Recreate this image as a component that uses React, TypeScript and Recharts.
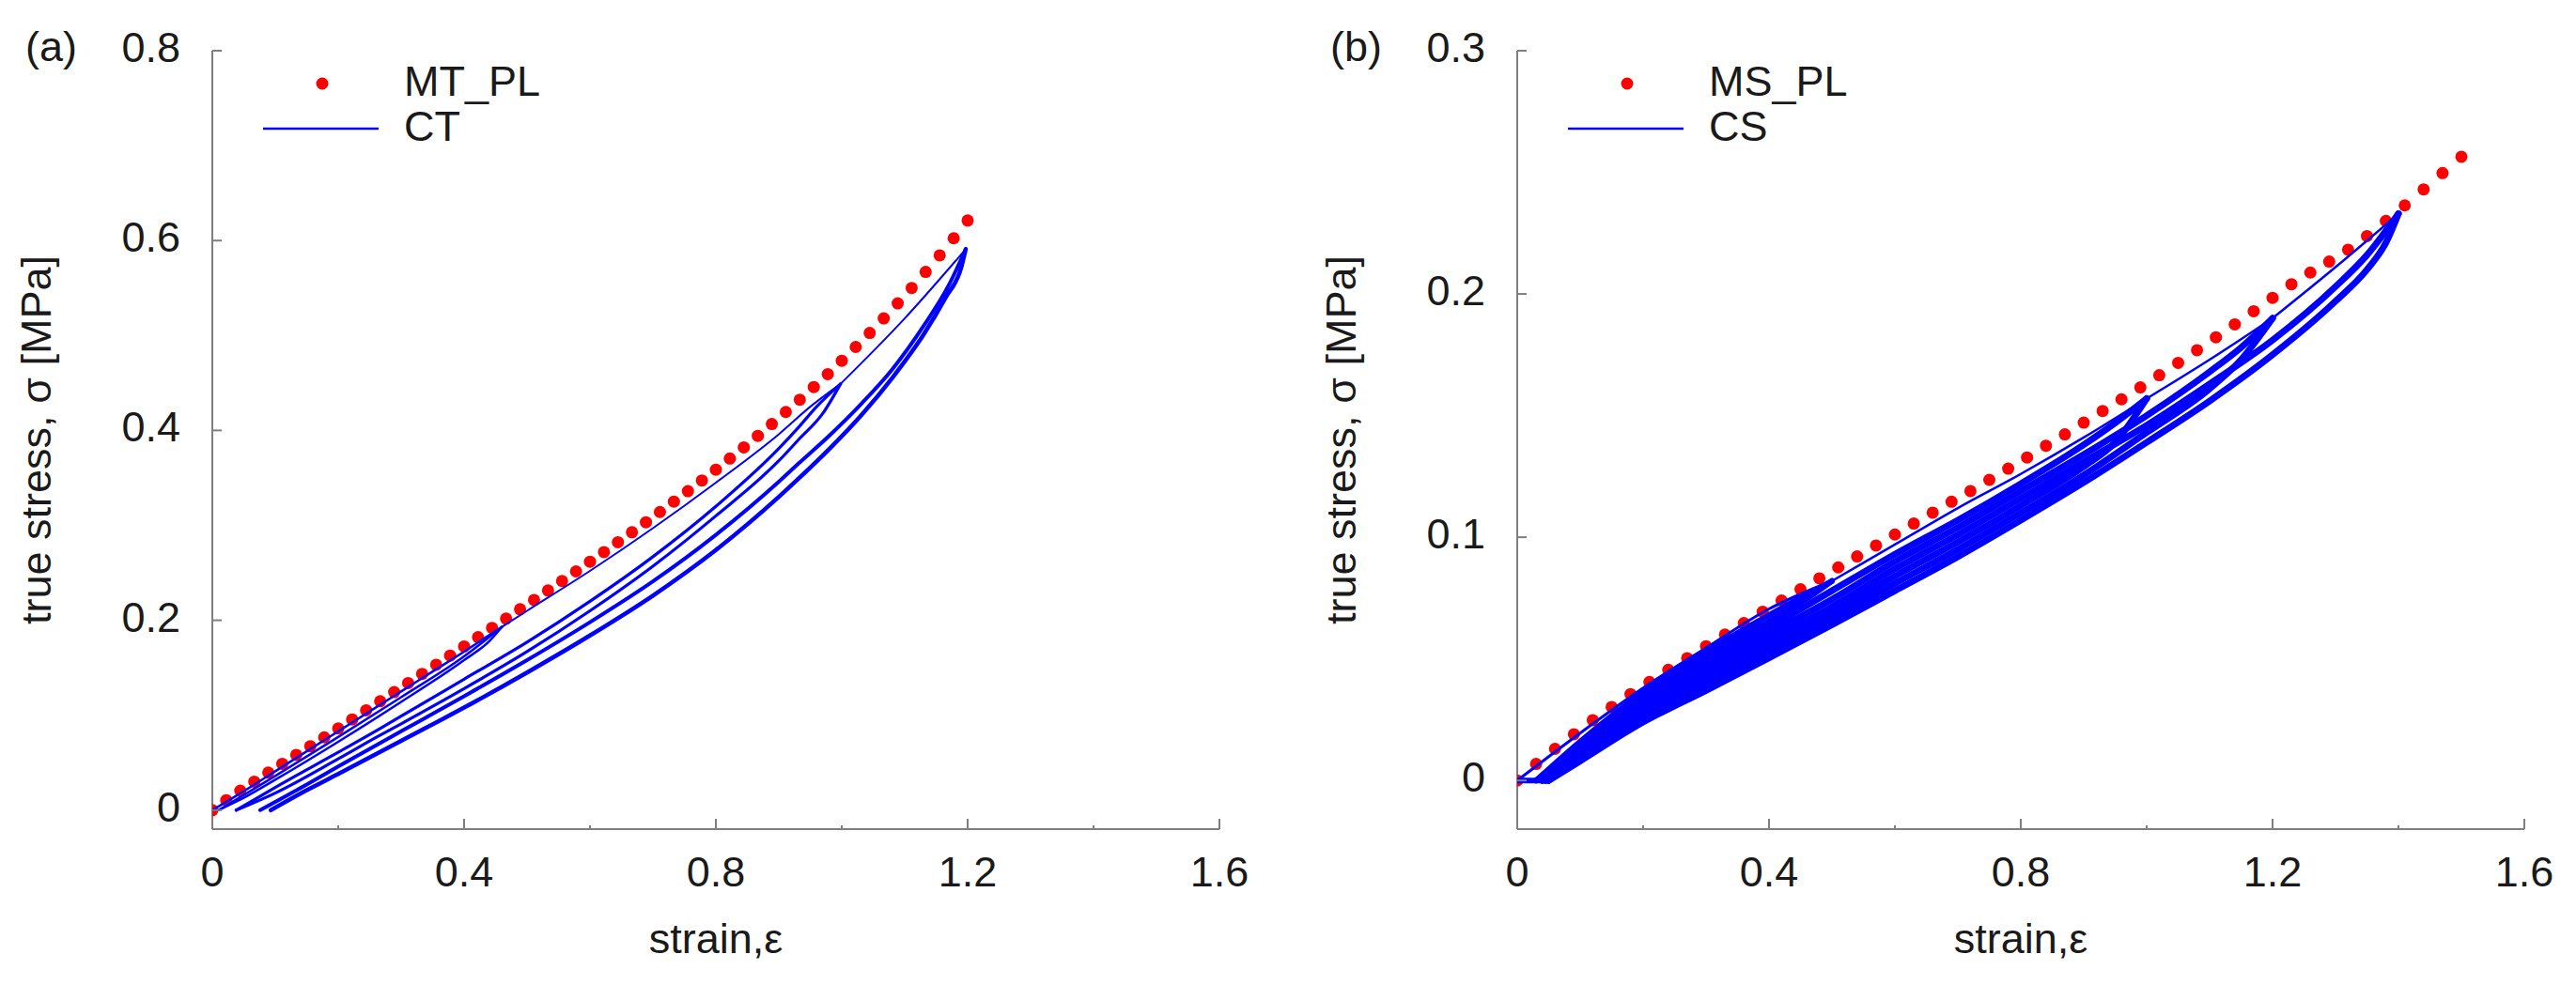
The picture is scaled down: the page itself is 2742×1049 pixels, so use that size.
import React from 'react';
import { ScatterChart, Scatter, XAxis, YAxis, Legend } from 'recharts';

const FONT = '"Liberation Sans", Arial, sans-serif';
const TEXT = '#1a1a1a';
const AXIS = '#7f7f7f';
const RED = '#ff0000';
const BLUE = '#0000ff';

// ---------- tick values ----------
const X_TICKS = [0, 0.2, 0.4, 0.6, 0.8, 1.0, 1.2, 1.4, 1.6];
const X_LABELED = [0, 0.4, 0.8, 1.2, 1.6];
const Y_TICKS_A = [0, 0.2, 0.4, 0.6, 0.8];
const Y_TICKS_B = [0, 0.1, 0.2, 0.3];

// ---------- panel (a): MT_PL model points ----------
const MT_PL_STRAIN = [
  0, 0.0222, 0.0444, 0.0667, 0.0889, 0.1111, 0.1333, 0.1556, 0.1778, 0.2,
  0.2222, 0.2444, 0.2667, 0.2889, 0.3111, 0.3333, 0.3556, 0.3778, 0.4, 0.4222,
  0.4444, 0.4667, 0.4889, 0.5111, 0.5333, 0.5556, 0.5778, 0.6, 0.6222, 0.6444,
  0.6667, 0.6889, 0.7111, 0.7333, 0.7556, 0.7778, 0.8, 0.8222, 0.8444, 0.8667,
  0.8889, 0.9111, 0.9333, 0.9556, 0.9778, 1.0, 1.0222, 1.0444, 1.0667, 1.0889,
  1.1111, 1.1333, 1.1556, 1.1778, 1.2,
];
const MT_PL_STRESS = [
  0, 0.0105, 0.0205, 0.03, 0.0395, 0.0488, 0.0582, 0.0674, 0.0767, 0.086,
  0.0956, 0.1052, 0.1147, 0.1243, 0.1339, 0.1435, 0.1532, 0.1628, 0.1725, 0.1822,
  0.192, 0.2017, 0.2116, 0.2214, 0.2314, 0.2414, 0.2515, 0.2617, 0.2719, 0.2823,
  0.2927, 0.3033, 0.3141, 0.325, 0.336, 0.3473, 0.3587, 0.3704, 0.3822, 0.3943,
  0.4067, 0.4194, 0.4324, 0.4457, 0.4593, 0.4734, 0.4879, 0.5027, 0.518, 0.5338,
  0.5501, 0.567, 0.5844, 0.6024, 0.6211,
];

// ---------- panel (a): CT experimental branches [strain, stress] ----------
const CT_A_LOAD = [[0, 0], [0.05, 0.02], [0.1, 0.041], [0.15, 0.062], [0.2, 0.083], [0.25, 0.104], [0.3, 0.125], [0.35, 0.146], [0.4, 0.167], [0.46, 0.193]];
const CT_A_UNLOAD = [[0.01, 0], [0.05, 0.013], [0.1, 0.032], [0.2, 0.072], [0.3, 0.114], [0.4, 0.158], [0.44, 0.178], [0.46, 0.193]];
const CT_A_RELOAD = [[0.01, 0], [0.1, 0.036], [0.2, 0.077], [0.3, 0.119], [0.4, 0.162], [0.46, 0.193]];
const CT_VIRGIN_2 = [[0.46, 0.193], [0.5, 0.21], [0.6, 0.252], [0.7, 0.297], [0.8, 0.345], [0.9, 0.396], [0.95, 0.425], [0.998, 0.449]];
const CT_B_LOAD = [[0.038, 0], [0.1, 0.024], [0.2, 0.061], [0.264, 0.085], [0.3, 0.099], [0.4, 0.138], [0.5, 0.177], [0.6, 0.22], [0.7, 0.267], [0.8, 0.32], [0.9, 0.381], [0.931, 0.403], [0.96, 0.425], [0.998, 0.449]];
const CT_B_UNLOAD = [[0.038, 0], [0.1, 0.018], [0.2, 0.054], [0.264, 0.078], [0.3, 0.091], [0.4, 0.128], [0.5, 0.167], [0.6, 0.21], [0.7, 0.257], [0.8, 0.31], [0.9, 0.368], [0.931, 0.39], [0.97, 0.418], [0.998, 0.449]];
const CT_VIRGIN_3 = [[0.998, 0.449], [1.1, 0.518], [1.197, 0.591]];
const CT_C_LOAD = [[0.076, 0], [0.15, 0.027], [0.2, 0.046], [0.3, 0.083], [0.4, 0.12], [0.5, 0.158], [0.6, 0.198], [0.7, 0.241], [0.8, 0.29], [0.9, 0.346], [0.931, 0.365], [0.981, 0.395], [1.031, 0.428], [1.081, 0.465], [1.13, 0.51], [1.17, 0.553], [1.197, 0.591]];
const CT_C_UNLOAD = [[0.093, 0], [0.15, 0.021], [0.2, 0.038], [0.3, 0.073], [0.4, 0.108], [0.5, 0.145], [0.6, 0.184], [0.7, 0.226], [0.8, 0.274], [0.9, 0.33], [0.931, 0.349], [0.981, 0.381], [1.031, 0.416], [1.081, 0.456], [1.13, 0.501], [1.165, 0.54], [1.19, 0.572], [1.197, 0.591]];

// ---------- panel (b): MS_PL model points ----------
const MS_PL_STRAIN = [
  0, 0.03, 0.06, 0.09, 0.12, 0.15, 0.18, 0.21, 0.24, 0.27,
  0.3, 0.33, 0.36, 0.39, 0.42, 0.45, 0.48, 0.51, 0.54, 0.57,
  0.6, 0.63, 0.66, 0.69, 0.72, 0.75, 0.78, 0.81, 0.84, 0.87,
  0.9, 0.93, 0.96, 0.99, 1.02, 1.05, 1.08, 1.11, 1.14, 1.17,
  1.2, 1.23, 1.26, 1.29, 1.32, 1.35, 1.38, 1.41, 1.44, 1.47, 1.5,
];
const MS_PL_STRESS = [
  0, 0.0068, 0.013, 0.019, 0.0248, 0.0302, 0.0355, 0.0405, 0.0455, 0.0503,
  0.0552, 0.06, 0.0647, 0.0694, 0.074, 0.0786, 0.0831, 0.0876, 0.0921, 0.0966,
  0.1011, 0.1056, 0.1101, 0.1146, 0.119, 0.1236, 0.1282, 0.1328, 0.1376, 0.1423,
  0.1471, 0.1519, 0.1567, 0.1616, 0.1666, 0.1717, 0.1769, 0.1822, 0.1875, 0.1929,
  0.1984, 0.204, 0.2088, 0.2133, 0.2182, 0.2238, 0.23, 0.2364, 0.243, 0.2497, 0.2564,
];

// ---------- panel (b): CS experimental branches [strain, stress] ----------
const CS_FLAT = [[0, 0], [0.05, 0]];
const CS_VIRGIN_1 = [[0, 0], [0.1, 0.0195], [0.2, 0.038], [0.3, 0.0545], [0.4, 0.0705], [0.5, 0.082]];
const CS_1_UNLOAD = [[0.03, 0], [0.1, 0.0145], [0.2, 0.0345], [0.3, 0.0515], [0.4, 0.0655], [0.45, 0.073], [0.5, 0.082]];
const CS_1_RELOAD = [[0.03, 0], [0.1, 0.016], [0.2, 0.0363], [0.3, 0.053], [0.4, 0.068], [0.5, 0.082]];
const CS_VIRGIN_2 = [[0.5, 0.082], [0.6, 0.097], [0.7, 0.112], [0.8, 0.126], [0.9, 0.141], [1.0, 0.157]];
const CS_2_UNLOAD = [[0.04, 0], [0.1, 0.0105], [0.2, 0.0275], [0.3, 0.042], [0.4, 0.0555], [0.5, 0.069], [0.6, 0.084], [0.7, 0.098], [0.8, 0.113], [0.9, 0.129], [0.95, 0.139], [1.0, 0.157]];
const CS_2_RELOAD = [[0.04, 0], [0.1, 0.0135], [0.2, 0.0328], [0.3, 0.0495], [0.4, 0.063], [0.5, 0.078], [0.6, 0.093], [0.7, 0.107], [0.8, 0.122], [0.9, 0.138], [0.95, 0.147], [1.0, 0.157]];
const CS_VIRGIN_3 = [[1.0, 0.157], [1.1, 0.173], [1.2, 0.19]];
const CS_3_UNLOAD = [[0.045, 0], [0.1, 0.009], [0.2, 0.0257], [0.3, 0.0395], [0.4, 0.053], [0.5, 0.0665], [0.6, 0.081], [0.7, 0.095], [0.8, 0.11], [0.9, 0.1255], [1.0, 0.143], [1.1, 0.161], [1.15, 0.173], [1.2, 0.19]];
const CS_3_RELOAD = [[0.045, 0], [0.1, 0.0125], [0.2, 0.031], [0.3, 0.047], [0.4, 0.0605], [0.5, 0.0745], [0.6, 0.09], [0.7, 0.104], [0.8, 0.119], [0.9, 0.134], [1.0, 0.15], [1.1, 0.168], [1.15, 0.178], [1.2, 0.19]];
const CS_VIRGIN_4 = [[1.2, 0.19], [1.3, 0.211], [1.4, 0.233]];
const CS_4_UNLOAD = [[0.05, 0], [0.1, 0.008], [0.2, 0.024], [0.3, 0.037], [0.4, 0.0504], [0.5, 0.064], [0.6, 0.078], [0.7, 0.092], [0.8, 0.107], [0.9, 0.1225], [1.0, 0.139], [1.1, 0.156], [1.2, 0.175], [1.3, 0.197], [1.35, 0.21], [1.38, 0.221], [1.4, 0.233]];
const CS_4_RELOAD = [[0.05, 0], [0.1, 0.011], [0.2, 0.0293], [0.3, 0.0445], [0.4, 0.058], [0.5, 0.0715], [0.6, 0.087], [0.7, 0.101], [0.8, 0.116], [0.9, 0.131], [1.0, 0.146], [1.1, 0.163], [1.2, 0.181], [1.3, 0.203], [1.35, 0.216], [1.4, 0.233]];

// ---------- helpers ----------
const zip = (xs: number[], ys: number[]) => xs.map((x, i) => ({ x, y: ys[i] }));
const pairs = (arr: number[][]) => arr.map(([x, y]) => ({ x, y }));

const XTick = (props: any) => {
  const { x, y, payload } = props;
  const v = payload.value;
  const major = X_LABELED.includes(v);
  return (
    <g>
      {v !== 0 && (
        <line x1={x} x2={x} y1={y} y2={y - (major ? 11 : 4)} stroke={AXIS} strokeWidth={2} />
      )}
      {major && (
        <text x={x} y={y + 61} textAnchor="middle" fontSize={45} fontFamily={FONT} fill={TEXT}>
          {String(v)}
        </text>
      )}
    </g>
  );
};

const YTick = (props: any) => {
  const { x, y, payload } = props;
  return (
    <g>
      <line x1={x} x2={x + 10} y1={y} y2={y} stroke={AXIS} strokeWidth={2} />
      <text x={x - 34} y={y + 12} textAnchor="end" fontSize={45} fontFamily={FONT} fill={TEXT}>
        {String(payload.value)}
      </text>
    </g>
  );
};

const YLabel = (props: any) => {
  const vb = props.viewBox || props;
  const x = vb.x + vb.width - 172;
  const y = vb.y + vb.height / 2;
  return (
    <text
      x={x}
      y={y}
      transform={`rotate(-90 ${x} ${y})`}
      textAnchor="middle"
      fontSize={45}
      fontFamily={FONT}
      fill={TEXT}
    >
      true stress, σ [MPa]
    </text>
  );
};

const XLabel = (props: any) => {
  const vb = props.viewBox || props;
  return (
    <text
      x={vb.x + vb.width / 2}
      y={vb.y + 132}
      textAnchor="middle"
      fontSize={45}
      fontFamily={FONT}
      fill={TEXT}
    >
      strain,ε
    </text>
  );
};

const makeLegend = (axisX: number) => (p: any) => {
  const all = (p.payload || []).filter((e: any) => e.type !== 'none');
  const items = [
    ...all.filter((e: any) => e.type === 'circle'),
    ...all.filter((e: any) => e.type !== 'circle'),
  ];
  return (
    <svg width={700} height={200} style={{ overflow: 'visible' }}>
      {items.map((e: any, i: number) => {
        const base = i === 0 ? 102 : 150;
        return (
          <g key={i}>
            {e.type === 'circle' ? (
              <circle cx={axisX + 117} cy={89} r={6.5} fill={e.color} />
            ) : (
              <line x1={axisX + 54} x2={axisX + 177} y1={137} y2={137} stroke={e.color} strokeWidth={2.5} />
            )}
            <text x={axisX + 204} y={base} fontSize={45} fontFamily={FONT} fill={TEXT}>
              {e.value}
            </text>
          </g>
        );
      })}
    </svg>
  );
};

const RedDot = (props: any) => <circle cx={props.cx} cy={props.cy} r={6.5} fill={RED} />;
const NoShape = () => <g />;

type Branch = { data: number[][]; w: number };

type PanelProps = {
  left: number;
  yAxisWidth: number;
  rightMargin: number;
  yDomain: number[];
  yTicks: number[];
  dotX: number[];
  dotY: number[];
  dotName: string;
  lineName: string;
  branches: Branch[];
  tag: string;
};

const W = 1371;
const H = 1049;

function Panel(p: PanelProps) {
  return (
    <div style={{ position: 'absolute', left: p.left, top: 0, width: W, height: H }}>
      <ScatterChart width={W} height={H} margin={{ top: 54, right: p.rightMargin, bottom: 0, left: 0 }}>
        <XAxis
          type="number"
          dataKey="x"
          domain={[0, 1.6]}
          ticks={X_TICKS}
          interval={0}
          allowDataOverflow
          height={166}
          tickSize={0}
          tickMargin={0}
          tickLine={false}
          tick={<XTick />}
          axisLine={{ stroke: AXIS, strokeWidth: 2 }}
          label={{ content: (lp: any) => <XLabel {...lp} /> }}
        />
        <YAxis
          type="number"
          dataKey="y"
          domain={p.yDomain}
          ticks={p.yTicks}
          interval={0}
          allowDataOverflow
          width={p.yAxisWidth}
          tickSize={0}
          tickMargin={0}
          tickLine={false}
          tick={<YTick />}
          axisLine={{ stroke: AXIS, strokeWidth: 2 }}
          label={{ content: (lp: any) => <YLabel {...lp} /> }}
        />
        <Legend
          layout="vertical"
          align="center"
          verticalAlign="middle"
          wrapperStyle={{ position: 'absolute', left: 0, top: 0, width: 700, height: 200 }}
          content={makeLegend(p.yAxisWidth)}
        />
        <Scatter
          name={p.dotName}
          data={zip(p.dotX, p.dotY)}
          fill={RED}
          legendType="circle"
          shape={<RedDot />}
          isAnimationActive={false}
        />
        {p.branches.map((b, i) => (
          <Scatter
            key={i}
            name={i === 0 ? p.lineName : `${p.lineName}-${i}`}
            data={pairs(b.data)}
            fill={BLUE}
            legendType={i === 0 ? 'line' : 'none'}
            line={{ stroke: BLUE, strokeWidth: b.w, strokeLinejoin: 'round', strokeLinecap: 'round' }}
            lineType="joint"
            lineJointType="monotoneX"
            shape={<NoShape />}
            isAnimationActive={false}
          />
        ))}
      </ScatterChart>
      <svg width={200} height={100} style={{ position: 'absolute', left: 0, top: 0 }}>
        <text x={p.yAxisWidth - 199} y={65} fontSize={45} fontFamily={FONT} fill={TEXT}>
          {p.tag}
        </text>
      </svg>
    </div>
  );
}

const BRANCHES_A: Branch[] = [
  { data: CT_A_LOAD, w: 2.5 },
  { data: CT_A_UNLOAD, w: 2.5 },
  { data: CT_A_RELOAD, w: 2.5 },
  { data: CT_VIRGIN_2, w: 2 },
  { data: CT_B_LOAD, w: 3.2 },
  { data: CT_B_UNLOAD, w: 3.2 },
  { data: CT_VIRGIN_3, w: 2 },
  { data: CT_C_LOAD, w: 4 },
  { data: CT_C_UNLOAD, w: 4.5 },
];

const BRANCHES_B: Branch[] = [
  { data: CS_VIRGIN_1, w: 3 },
  { data: CS_FLAT, w: 6 },
  { data: CS_1_UNLOAD, w: 6 },
  { data: CS_1_RELOAD, w: 6 },
  { data: CS_VIRGIN_2, w: 2.5 },
  { data: CS_2_UNLOAD, w: 7 },
  { data: CS_2_RELOAD, w: 7 },
  { data: CS_VIRGIN_3, w: 2.5 },
  { data: CS_3_UNLOAD, w: 7 },
  { data: CS_3_RELOAD, w: 7 },
  { data: CS_VIRGIN_4, w: 2.5 },
  { data: CS_4_UNLOAD, w: 7 },
  { data: CS_4_RELOAD, w: 7 },
];

export default function App() {
  return (
    <div style={{ position: 'absolute', left: 0, top: 0, width: 2742, height: 1049, background: '#fff' }}>
      <Panel
        left={0}
        yAxisWidth={226}
        rightMargin={73}
        yDomain={[-0.02, 0.8]}
        yTicks={Y_TICKS_A}
        dotX={MT_PL_STRAIN}
        dotY={MT_PL_STRESS}
        dotName="MT_PL"
        lineName="CT"
        branches={BRANCHES_A}
        tag="(a)"
      />
      <Panel
        left={1371}
        yAxisWidth={244}
        rightMargin={55}
        yDomain={[-0.02, 0.3]}
        yTicks={Y_TICKS_B}
        dotX={MS_PL_STRAIN}
        dotY={MS_PL_STRESS}
        dotName="MS_PL"
        lineName="CS"
        branches={BRANCHES_B}
        tag="(b)"
      />
    </div>
  );
}
